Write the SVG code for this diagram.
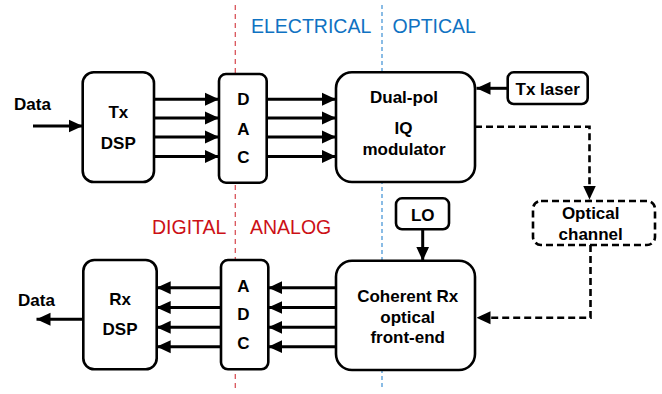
<svg xmlns="http://www.w3.org/2000/svg" width="662" height="394" viewBox="0 0 662 394">
<defs>
<style>
.box{fill:#fff;stroke:#000;stroke-width:2.6}
.dbox{fill:#fff;stroke:#000;stroke-width:2.6;stroke-dasharray:7 4}
.t{font-family:"Liberation Sans",Arial,sans-serif;font-weight:bold;font-size:17px;fill:#000;text-anchor:middle}
.lbl{font-family:"Liberation Sans",Arial,sans-serif;font-size:19.5px}
.ln{fill:none;stroke:#000;stroke-width:3}
.dl{fill:none;stroke:#000;stroke-width:2.6;stroke-dasharray:7 4}
</style>
<marker id="ah" markerUnits="userSpaceOnUse" markerWidth="14" markerHeight="14" viewBox="0 0 14 14" refX="14" refY="7" orient="auto">
<path d="M0,0.5 L14,7 L0,13.5 Z" fill="#000"/>
</marker>
</defs>
<g id="dividers">
<line x1="235.3" y1="5" x2="235.3" y2="392" stroke="#d9535a" stroke-width="1.3" stroke-dasharray="5 4"/>
<line x1="382" y1="5" x2="382" y2="390" stroke="#3d8fd4" stroke-width="1.2" stroke-dasharray="4 3"/>
</g>
<g id="labels">
<text class="lbl" x="251" y="33" fill="#0f72c2">ELECTRICAL</text>
<text class="lbl" x="392.5" y="33" fill="#0f72c2">OPTICAL</text>
<text class="lbl" x="152" y="233.5" fill="#cc1016">DIGITAL</text>
<text class="lbl" x="250" y="233.5" fill="#cc1016">ANALOG</text>
</g>
<g id="connectors">
<line class="ln" x1="33" y1="126" x2="82.7" y2="126" marker-end="url(#ah)"/>
<line class="ln" x1="154" y1="99.3" x2="219" y2="99.3" marker-end="url(#ah)"/>
<line class="ln" x1="154" y1="118" x2="219" y2="118" marker-end="url(#ah)"/>
<line class="ln" x1="154" y1="137" x2="219" y2="137" marker-end="url(#ah)"/>
<line class="ln" x1="154" y1="156.5" x2="219" y2="156.5" marker-end="url(#ah)"/>
<line class="ln" x1="266.7" y1="99.3" x2="336" y2="99.3" marker-end="url(#ah)"/>
<line class="ln" x1="266.7" y1="118" x2="336" y2="118" marker-end="url(#ah)"/>
<line class="ln" x1="266.7" y1="137" x2="336" y2="137" marker-end="url(#ah)"/>
<line class="ln" x1="266.7" y1="156.5" x2="336" y2="156.5" marker-end="url(#ah)"/>
<line class="ln" x1="507.7" y1="88.3" x2="476.5" y2="88.3" marker-end="url(#ah)"/>
<polyline class="dl" points="475,126.7 589.5,126.7 589.5,199.5" marker-end="url(#ah)"/>
<polyline class="dl" points="590.5,245 590.5,317.7 476.5,317.7" marker-end="url(#ah)"/>
<line class="ln" x1="422.7" y1="229.3" x2="422.7" y2="260.7" marker-end="url(#ah)"/>
<line class="ln" x1="336" y1="287.7" x2="268.3" y2="287.7" marker-end="url(#ah)"/>
<line class="ln" x1="336" y1="307.5" x2="268.3" y2="307.5" marker-end="url(#ah)"/>
<line class="ln" x1="336" y1="327.3" x2="268.3" y2="327.3" marker-end="url(#ah)"/>
<line class="ln" x1="336" y1="346.7" x2="268.3" y2="346.7" marker-end="url(#ah)"/>
<line class="ln" x1="221" y1="287.7" x2="156.7" y2="287.7" marker-end="url(#ah)"/>
<line class="ln" x1="221" y1="307.5" x2="156.7" y2="307.5" marker-end="url(#ah)"/>
<line class="ln" x1="221" y1="327.3" x2="156.7" y2="327.3" marker-end="url(#ah)"/>
<line class="ln" x1="221" y1="346.7" x2="156.7" y2="346.7" marker-end="url(#ah)"/>
<line class="ln" x1="83.3" y1="319.3" x2="36.5" y2="319.3" marker-end="url(#ah)"/>
</g>
<g id="data-in"><text class="t" x="32.5" y="110">Data</text></g>
<g id="data-out"><text class="t" x="36.5" y="306">Data</text></g>
<g id="tx-dsp">
<rect class="box" x="82.7" y="72.3" width="71.3" height="109.7" rx="11"/>
<text class="t" x="118.3" y="118">Tx</text>
<text class="t" x="118.3" y="149">DSP</text>
</g>
<g id="dac">
<rect class="box" x="219" y="74" width="47.7" height="108.7" rx="7"/>
<text class="t" x="243.3" y="105">D</text>
<text class="t" x="243.3" y="134.5">A</text>
<text class="t" x="243.3" y="163">C</text>
</g>
<g id="modulator">
<rect class="box" x="336" y="72.3" width="139" height="109.7" rx="16"/>
<text class="t" x="404" y="103">Dual-pol</text>
<text class="t" x="403.5" y="134">IQ</text>
<text class="t" x="404" y="155">modulator</text>
</g>
<g id="tx-laser">
<rect class="box" x="507.7" y="72.3" width="80" height="31.7" rx="6"/>
<text class="t" x="547.7" y="95">Tx laser</text>
</g>
<g id="optical-channel">
<rect class="dbox" x="533" y="201" width="122" height="44" rx="8"/>
<text class="t" x="590.7" y="219">Optical</text>
<text class="t" x="590.7" y="240">channel</text>
</g>
<g id="lo">
<rect class="box" x="396" y="198.3" width="53" height="31" rx="6"/>
<text class="t" x="422.7" y="221">LO</text>
</g>
<g id="coherent-rx">
<rect class="box" x="336" y="260.7" width="139" height="109.3" rx="16"/>
<text class="t" x="407.7" y="301.5">Coherent Rx</text>
<text class="t" x="407.7" y="323">optical</text>
<text class="t" x="407.7" y="343">front-end</text>
</g>
<g id="adc">
<rect class="box" x="221" y="260" width="47.3" height="109.3" rx="7"/>
<text class="t" x="243.5" y="291.7">A</text>
<text class="t" x="243.5" y="320">D</text>
<text class="t" x="243.5" y="349">C</text>
</g>
<g id="rx-dsp">
<rect class="box" x="83.3" y="260" width="73.4" height="109.3" rx="11"/>
<text class="t" x="120" y="305">Rx</text>
<text class="t" x="120" y="335">DSP</text>
</g>
</svg>
